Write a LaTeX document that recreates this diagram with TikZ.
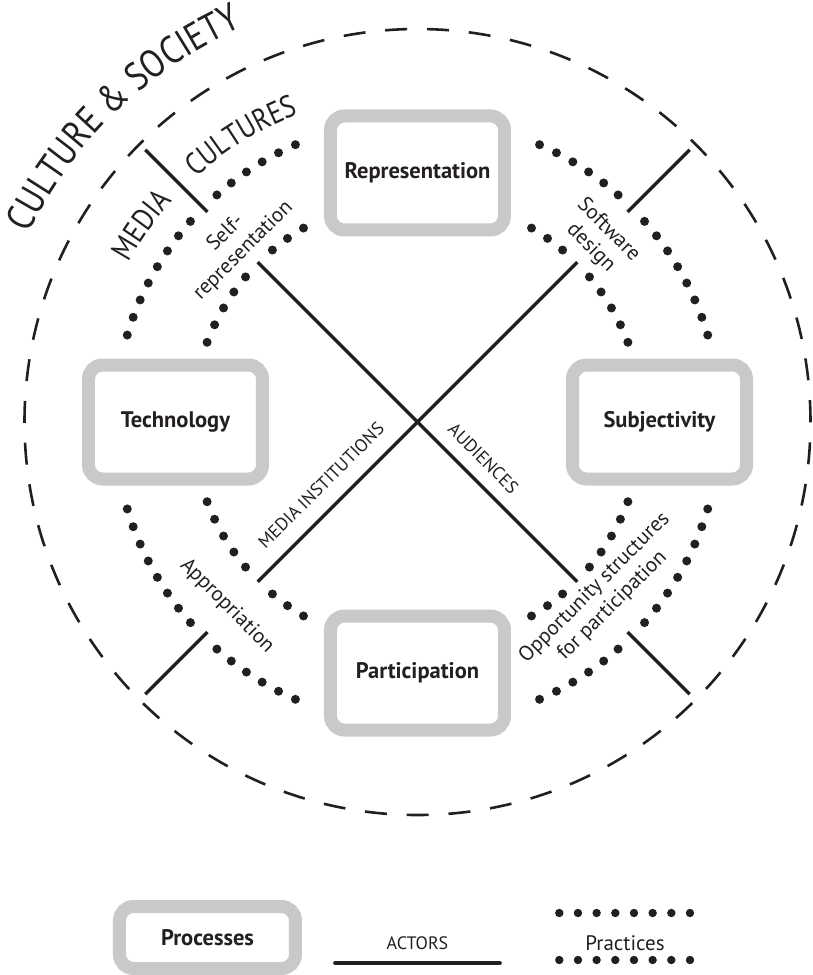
\documentclass[tikz,border=0pt]{standalone}
\usepackage{fontspec}
\setmainfont{PT Sans}
\newfontfamily\ringfont[FakeStretch=0.85]{PT Sans}
\usepackage{tikz}
\usetikzlibrary{decorations.text}
\definecolor{procgray}{HTML}{C8C9CB}
\definecolor{inkblack}{HTML}{231F20}

\begin{document}
\begin{tikzpicture}[
        x=1pt, y=1pt,
        every node/.style={align=center, text=inkblack},
        % ===== Estilos =====
        procbox/.style={rectangle, rounded corners=14pt, draw=procgray, line width=13pt,
                        fill=white, minimum width=174pt, minimum height=114pt,
                        font=\fontsize{22.5}{24}\selectfont\bfseries, inner sep=0pt},
        actorline/.style={draw=inkblack, line width=3.3pt},
        actorlbl/.style={font=\fontsize{18}{20}\selectfont, inner sep=0pt},
        practlbl/.style={font=\fontsize{21}{25}\selectfont, inner sep=0pt},
        practdot/.style={fill=inkblack},
        cultring/.style={draw=inkblack, line width=2.6pt, dash pattern=on 22pt off 19.85pt}
    ]
        \useasboundingbox (-417.5,-553) rectangle (395.5,422);

        % ===== Anillo exterior (cultura y sociedad) =====
        \draw[cultring] (0,0) circle (393);

        % ===== Actores: diagonales =====
        \foreach \a/\n in {45/ne,135/nw,225/sw,315/se}{
            \coordinate (\n-in) at (\a:226);
            \coordinate (\n-mid) at (\a:297);
            \coordinate (\n-out) at (\a:385);
        }
        \draw[actorline] (nw-in) -- (se-in);
        \draw[actorline] (sw-in) -- (ne-in);
        \foreach \n in {ne,nw,sw,se}
            \draw[actorline] (\n-mid) -- (\n-out);

        % ===== Practicas: arcos punteados =====
        \foreach \q/\s in {45/-1,135/1,225/-1,315/1}{
            \foreach \k in {-3,...,-1,1,2,...,5}
                \fill[practdot] ({\q+\s*\k*4.85}:225) circle (4.5);
            \foreach \k in {-6,...,-1,1,2,...,8}
                \fill[practdot] ({\q+\s*\k*3.54}:303) circle (4.5);
        }

        % ===== Procesos =====
        \node[procbox] (repr) at (0,249) {Representation};
        \node[procbox] (tech) at (-242,0) {Technology};
        \node[procbox] (subj) at (242,0) {Subjectivity};
        \node[procbox] (part) at (0,-251) {Participation};

        % ===== Etiquetas de practicas =====
        \node[practlbl, rotate=45] (selfrep) at (-183,180) {Self-\\representation};
        \node[practlbl, rotate=-45] (softw) at (182,183) {Software\\design};
        \node[practlbl, rotate=-45] (approp) at (-190.5,-184) {Appropriation};
        \node[practlbl, rotate=45] (opport) at (186,-175) {Opportunity structures\\for participation};

        % ===== Etiquetas de actores =====
        \node[actorlbl, rotate=45] (medinst) at (-96.5,-63.5) {MEDIA INSTITUTIONS};
        \node[actorlbl, rotate=-45] (aud) at (65.8,-36.3) {AUDIENCES};

        % ===== Textos curvos =====
        \path[decorate, decoration={text along path, text align=center,
              text={|\color{inkblack}\ringfont\fontsize{39}{39}\selectfont|CULTURE {\&} SOCIETY}}]
            (175:432) arc[start angle=175, end angle=93, radius=432];
        \path[decorate, decoration={text along path, text align=center,
              text={|\color{inkblack}\ringfont\fontsize{31}{31}\selectfont|MEDIA}}]
            (159.5:330) arc[start angle=159.5, end angle=129.5, radius=330];
        \path[decorate, decoration={text along path, text align=center,
              text={|\color{inkblack}\ringfont\fontsize{31}{31}\selectfont|CULTURES}}]
            (136.6:330) arc[start angle=136.6, end angle=106.6, radius=330];

        % ===== Leyenda =====
        \node[procbox, minimum width=176pt, minimum height=62pt] (legproc) at (-210,-515.5) {Processes};
        \node[actorlbl] (legactor) at (0,-521) {ACTORS};
        \coordinate (lega1) at (-82.5,-541);
        \coordinate (lega2) at (82.5,-541);
        \draw[actorline, line width=3.6pt, line cap=round] (lega1) -- (lega2);
        \node[practlbl] (legpract) at (207.5,-521) {Practices};
        \foreach \i in {0,...,7}{
            \fill[practdot] ({141.8+\i*18.67},-491) circle (4.2);
            \fill[practdot] ({141.8+\i*18.67},-538) circle (4.2);
        }
    \end{tikzpicture}
\end{document}
